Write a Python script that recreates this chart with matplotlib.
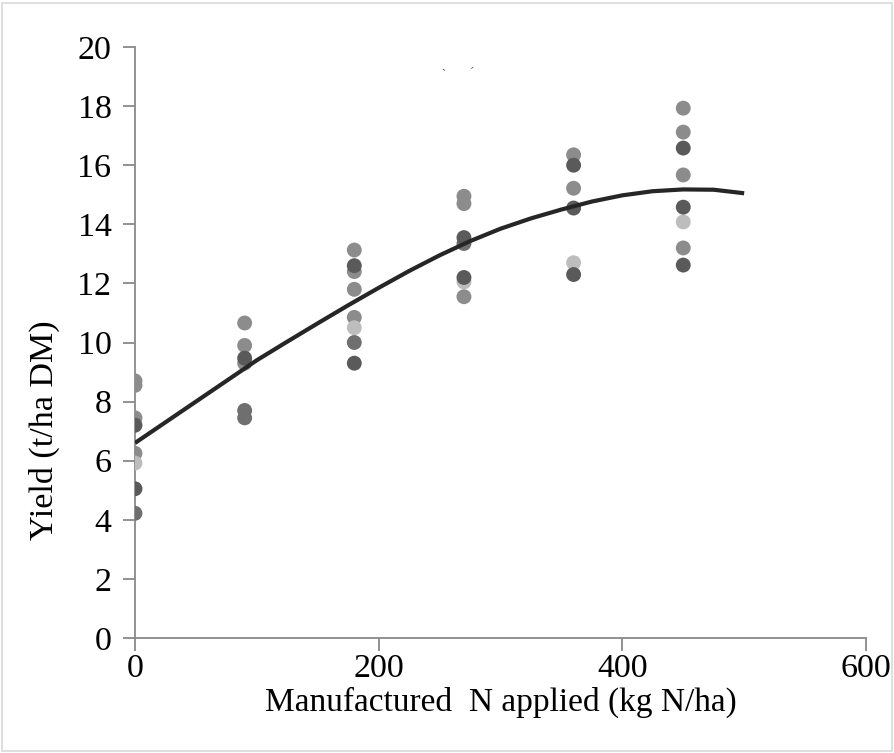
import matplotlib
matplotlib.use("Agg")
import matplotlib.pyplot as plt
from matplotlib.patches import Rectangle

plt.rcParams['font.family'] = ['Liberation Serif', 'DejaVu Serif']

# Observed yields (t/ha DM) grouped by marker shade
n_dark = [0, 0, 90, 180, 180, 270, 270, 360, 360, 360, 450, 450, 450]
y_dark = [7.2, 5.05, 9.47, 12.6, 9.3, 13.55, 12.2, 16.0, 14.55, 12.3, 16.58, 14.58, 12.62]

n_mid_dark = [0, 90, 90, 180, 270]
y_mid_dark = [4.22, 7.7, 7.45, 10.0, 13.35]

n_mid = [0, 0, 0, 0, 90, 90, 90, 180, 180, 180, 180, 270, 270, 270, 360, 360, 450, 450, 450, 450]
y_mid = [8.7, 8.55, 7.45, 6.25, 10.66, 9.9, 9.3, 13.13, 12.4, 11.8, 10.85, 14.95, 14.7, 11.55, 16.35, 15.22, 17.93, 17.12, 15.67, 13.2]

n_light = [0, 180, 270, 360, 450]
y_light = [5.92, 10.5, 12.05, 12.7, 14.08]

# Fitted response curve
curve_n = [0, 25, 50, 75, 100, 125, 150, 175, 200, 225, 250, 275, 300, 325, 350, 375, 400, 425, 450, 475, 500]
curve_y = [6.6, 7.3, 8.0, 8.7, 9.4, 10.03, 10.65, 11.26, 11.85, 12.42, 12.95, 13.43, 13.85, 14.2, 14.5,
           14.77, 14.98, 15.12, 15.18, 15.17, 15.05]

xticks = [0, 200, 400, 600]
yticks = [0, 2, 4, 6, 8, 10, 12, 14, 16, 18, 20]

fig = plt.figure(figsize=(8.95, 7.53), dpi=100)
ax = fig.add_axes([135/895, 1-638/753, (866-135)/895, (638-47)/753])

ms = 115
ax.scatter(n_mid, y_mid, s=ms, color='#8c8c8c', edgecolors='none', zorder=3)
ax.scatter(n_light, y_light, s=ms, color='#bdbdbd', edgecolors='none', zorder=3)
ax.scatter(n_mid_dark, y_mid_dark, s=ms, color='#6f6f6f', edgecolors='none', zorder=3)
ax.scatter(n_dark, y_dark, s=ms, color='#5a5a5a', edgecolors='none', zorder=3)
ax.plot(curve_n, curve_y, color='#262626', lw=3, zorder=4, solid_capstyle='butt')

ax.set_xlim(0, 600)
ax.set_ylim(0, 20)
ax.set_xticks(xticks)
ax.set_yticks(yticks)
ax.tick_params(labelsize=24.5, color='#898989', length=9, width=1.3)
ax.tick_params(axis='x', pad=2)
ax.tick_params(axis='y', pad=8)
for s in ['top', 'right']:
    ax.spines[s].set_visible(False)
for s in ['left', 'bottom']:
    ax.spines[s].set_color('#898989')
    ax.spines[s].set_linewidth(1.3)
ax.spines['left'].set_zorder(2)

ax.set_xlabel('Manufactured  N applied (kg N/ha)', fontsize=24, labelpad=2)
ax.set_ylabel('Yield (t/ha DM)', fontsize=24.5)
ax.yaxis.set_label_coords(-0.102, 0.352)

# small stray marks present in the original image
fig.text(443/895, 1-75/753, '`', fontsize=9, color='#555555', ha='center', va='center')
fig.text(472/895, 1-73/753, '\u00b4', fontsize=9, color='#555555', ha='center', va='center')

fig.patches.append(Rectangle((2/895, 2/753), 890/895, 748/753, transform=fig.transFigure,
                             fill=False, edgecolor='#d9d9d9', lw=1.2))

fig.savefig('out.png', dpi=100)
